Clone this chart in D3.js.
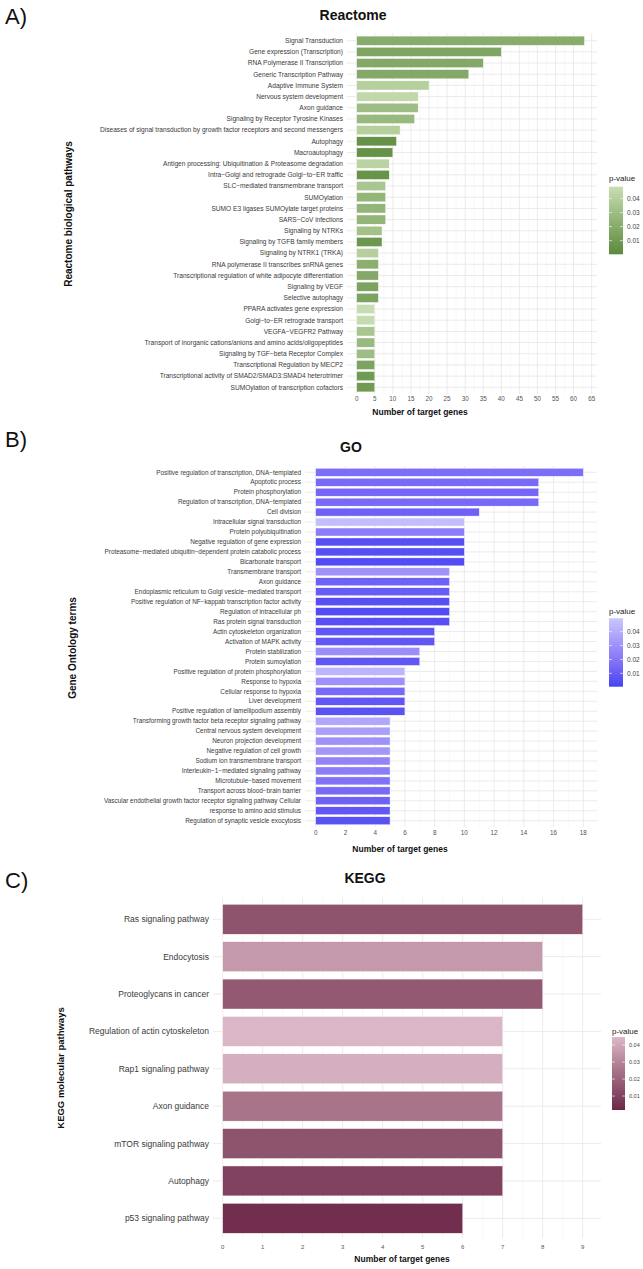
<!DOCTYPE html>
<html>
<head>
<meta charset="utf-8">
<script src="https://cdn.jsdelivr.net/npm/d3@7"></script>
<style>
  body { margin: 0; background: #fff; }
  text { font-family: "Liberation Sans", Arial, sans-serif; }
</style>
</head>
<body>
<svg width="643" height="1269"></svg>
<script>
// ---- Reactome ----
const reactomeTerms = [
  "Signal Transduction", "Gene expression (Transcription)", "RNA Polymerase II Transcription",
  "Generic Transcription Pathway", "Adaptive Immune System", "Nervous system development",
  "Axon guidance", "Signaling by Receptor Tyrosine Kinases",
  "Diseases of signal transduction by growth factor receptors and second messengers",
  "Autophagy", "Macroautophagy", "Antigen processing: Ubiquitination & Proteasome degradation",
  "Intra−Golgi and retrograde Golgi−to−ER traffic", "SLC−mediated transmembrane transport",
  "SUMOylation", "SUMO E3 ligases SUMOylate target proteins", "SARS−CoV infections",
  "Signaling by NTRKs", "Signaling by TGFB family members", "Signaling by NTRK1 (TRKA)",
  "RNA polymerase II transcribes snRNA genes", "Transcriptional regulation of white adipocyte differentiation",
  "Signaling by VEGF", "Selective autophagy", "PPARA activates gene expression",
  "Golgi−to−ER retrograde transport", "VEGFA−VEGFR2 Pathway",
  "Transport of inorganic cations/anions and amino acids/oligopeptides",
  "Signaling by TGF−beta Receptor Complex", "Transcriptional Regulation by MECP2",
  "Transcriptional activity of SMAD2/SMAD3:SMAD4 heterotrimer", "SUMOylation of transcription cofactors"
];
const reactomeCounts = [63, 40, 35, 31, 20, 17, 17, 16, 12, 11, 10, 9, 9, 8, 8, 8, 8, 7, 7, 6, 6, 6, 6, 6, 5, 5, 5, 5, 5, 5, 5, 5];
const reactomePvals = [0.02, 0.016, 0.018, 0.018, 0.04, 0.045, 0.03, 0.028, 0.04, 0.005, 0.005, 0.042, 0.006, 0.035, 0.025, 0.025,
  0.025, 0.032, 0.008, 0.04, 0.022, 0.018, 0.015, 0.015, 0.048, 0.047, 0.035, 0.028, 0.03, 0.015, 0.01, 0.01];

// ---- GO ----
const goTerms = [
  "Positive regulation of transcription, DNA−templated", "Apoptotic process", "Protein phosphorylation",
  "Regulation of transcription, DNA−templated", "Cell division", "Intracellular signal transduction",
  "Protein polyubiquitination", "Negative regulation of gene expression",
  "Proteasome−mediated ubiquitin−dependent protein catabolic process", "Bicarbonate transport",
  "Transmembrane transport", "Axon guidance", "Endoplasmic reticulum to Golgi vesicle−mediated transport",
  "Positive regulation of NF−kappab transcription factor activity", "Regulation of intracellular ph",
  "Ras protein signal transduction", "Actin cytoskeleton organization", "Activation of MAPK activity",
  "Protein stabilization", "Protein sumoylation", "Positive regulation of protein phosphorylation",
  "Response to hypoxia", "Cellular response to hypoxia", "Liver development",
  "Positive regulation of lamellipodium assembly", "Transforming growth factor beta receptor signaling pathway",
  "Central nervous system development", "Neuron projection development", "Negative regulation of cell growth",
  "Sodium ion transmembrane transport", "Interleukin−1−mediated signaling pathway", "Microtubule−based movement",
  "Transport across blood−brain barrier", "Vascular endothelial growth factor receptor signaling pathway Cellular",
  "response to amino acid stimulus", "Regulation of synaptic vesicle exocytosis"
];
const goCounts = [18, 15, 15, 15, 11, 10, 10, 10, 10, 10, 9, 9, 9, 9, 9, 9, 8, 8, 7, 7, 6, 6, 6, 6, 6, 5, 5, 5, 5, 5, 5, 5, 5, 5, 5, 5];
const goPvals = [0.017, 0.015, 0.014, 0.015, 0.012, 0.046, 0.022, 0.005, 0.005, 0.004, 0.03, 0.012, 0.01, 0.005, 0.004, 0.005,
  0.008, 0.008, 0.028, 0.008, 0.043, 0.03, 0.015, 0.008, 0.006, 0.038, 0.035, 0.03, 0.032, 0.025, 0.022, 0.018,
  0.015, 0.012, 0.008, 0.006];

// ---- KEGG ----
const keggTerms = [
  "Ras signaling pathway", "Endocytosis", "Proteoglycans in cancer", "Regulation of actin cytoskeleton",
  "Rap1 signaling pathway", "Axon guidance", "mTOR signaling pathway", "Autophagy", "p53 signaling pathway"
];
const keggCounts = [9, 8, 8, 7, 7, 7, 7, 7, 6];
const keggPvals = [0.015, 0.036, 0.017, 0.044, 0.042, 0.025, 0.015, 0.01, 0.004];

const legendTicks = [0.01, 0.02, 0.03, 0.04];

const svg = d3.select("svg");
const defs = svg.append("defs");

function drawPanel(o) {
  const g = svg.append("g");
  const x = d3.scaleLinear().domain([0, o.xMax]).range([o.x0, o.x1]);
  const y = d3.scaleBand().domain(o.terms).range([o.bandTop, o.bandBottom])
    .paddingInner(o.padInner).paddingOuter(o.padInner / 2);
  const color = d3.scaleLinear().domain(o.pRange).range([o.low, o.high])
    .interpolate(d3.interpolateLab).clamp(true);

  // grid
  const minor = d3.range(o.minorStep, o.xMax + o.minorStep, o.minorStep * 2)
    .filter(v => x(v) <= o.panelR);
  g.selectAll(".minor").data(minor).join("line")
    .attr("x1", d => x(d)).attr("x2", d => x(d))
    .attr("y1", o.gridTop).attr("y2", o.gridBottom)
    .attr("stroke", "#f0f0f0").attr("stroke-width", 0.5);
  const ticks = d3.range(0, o.xMax + 0.001, o.tickStep);
  g.selectAll(".major").data(ticks).join("line")
    .attr("x1", d => x(d)).attr("x2", d => x(d))
    .attr("y1", o.gridTop).attr("y2", o.gridBottom)
    .attr("stroke", "#e6e6e6").attr("stroke-width", 0.8);
  g.selectAll(".hgrid").data(o.terms).join("line")
    .attr("x1", o.panelL).attr("x2", o.panelR)
    .attr("y1", d => y(d) + y.bandwidth() / 2).attr("y2", d => y(d) + y.bandwidth() / 2)
    .attr("stroke", "#e6e6e6").attr("stroke-width", 0.8);

  // bars
  g.selectAll(".bar").data(o.terms).join("rect")
    .attr("x", x(0))
    .attr("y", d => y(d))
    .attr("width", (d, i) => x(o.counts[i]) - x(0))
    .attr("height", y.bandwidth())
    .attr("fill", (d, i) => color(o.pvals[i]))
    .attr("stroke", "#ffffff").attr("stroke-width", 0.4);

  // y labels
  g.selectAll(".ylab").data(o.terms).join("text")
    .attr("x", o.labelX).attr("y", d => y(d) + y.bandwidth() / 2)
    .attr("dy", "0.35em").attr("text-anchor", "end")
    .attr("font-size", o.labelSize).attr("fill", "#3a3a3a")
    .text(d => d);

  // x tick labels
  g.selectAll(".xt").data(ticks).join("text")
    .attr("x", d => x(d)).attr("y", o.tickY).attr("dy", "0.35em")
    .attr("text-anchor", "middle").attr("font-size", o.tickSize).attr("fill", "#555")
    .text(d => d);

  // titles
  g.append("text").attr("x", 5).attr("y", o.letterY).attr("font-size", 22).attr("fill", "#111").text(o.letter);
  g.append("text").attr("x", o.titleX).attr("y", o.titleY).attr("text-anchor", "middle")
    .attr("font-size", 14).attr("font-weight", "bold").attr("fill", "#111").text(o.title);
  g.append("text").attr("x", o.xTitleX).attr("y", o.xTitleY).attr("text-anchor", "middle")
    .attr("font-size", 8.5).attr("font-weight", "bold").attr("fill", "#111").text("Number of target genes");
  g.append("text").attr("transform", `translate(${o.yTitleX},${o.yTitleY}) rotate(-90)`)
    .attr("text-anchor", "middle").attr("font-size", o.yTitleSize).attr("font-weight", "bold")
    .attr("fill", "#111").text(o.yTitle);

  // legend
  const L = o.legend;
  const ly = d3.scaleLinear().domain(o.pRange).range([L.bottom, L.top]);
  const gid = "grad" + o.title;
  const grad = defs.append("linearGradient").attr("id", gid)
    .attr("x1", 0).attr("y1", 1).attr("x2", 0).attr("y2", 0);
  d3.range(0, 1.001, 0.1).forEach(t => {
    grad.append("stop").attr("offset", t)
      .attr("stop-color", color(o.pRange[0] + t * (o.pRange[1] - o.pRange[0])));
  });
  g.append("text").attr("x", L.x).attr("y", L.titleY).attr("dy", "0.35em")
    .attr("font-size", 8).attr("fill", "#222").text("p-value");
  g.append("rect").attr("x", L.x).attr("y", L.top).attr("width", L.w).attr("height", L.bottom - L.top)
    .attr("fill", `url(#${gid})`);
  g.selectAll(".lt").data(legendTicks).join("line")
    .attr("x1", L.x).attr("x2", L.x + 3).attr("y1", d => ly(d)).attr("y2", d => ly(d))
    .attr("stroke", "#fff").attr("stroke-width", 0.6);
  g.selectAll(".ltr").data(legendTicks).join("line")
    .attr("x1", L.x + L.w - 3).attr("x2", L.x + L.w).attr("y1", d => ly(d)).attr("y2", d => ly(d))
    .attr("stroke", "#fff").attr("stroke-width", 0.6);
  g.selectAll(".ll").data(legendTicks).join("text")
    .attr("x", L.x + L.w + 4).attr("y", d => ly(d)).attr("dy", "0.35em")
    .attr("font-size", L.fs).attr("fill", "#444").text(d => d.toFixed(2));
}

drawPanel({
  terms: reactomeTerms, counts: reactomeCounts, pvals: reactomePvals,
  xMax: 65, tickStep: 5, minorStep: 2.5, x0: 356.7, x1: 591.7, panelL: 347, panelR: 597,
  bandTop: 35.1, bandBottom: 392.9, gridTop: 33, gridBottom: 394, padInner: 0.18,
  low: "#5b8a3c", high: "#c8deb2", pRange: [0.0003, 0.0483],
  labelX: 343, labelSize: 6.6, tickY: 398.5, tickSize: 6.3,
  letter: "A)", letterY: 24, title: "Reactome", titleX: 353, titleY: 20,
  xTitleX: 420, xTitleY: 415, yTitle: "Reactome biological pathways", yTitleX: 72, yTitleY: 214, yTitleSize: 10,
  legend: { x: 609, w: 14, titleY: 178.5, top: 186.7, bottom: 254.3, fs: 6.5 }
});

drawPanel({
  terms: goTerms, counts: goCounts, pvals: goPvals,
  xMax: 18, tickStep: 2, minorStep: 1, x0: 315.7, x1: 583.3, panelL: 305, panelR: 597,
  bandTop: 467.3, bandBottom: 825.7, gridTop: 466, gridBottom: 827, padInner: 0.2,
  low: "#4343f3", high: "#c9c7fb", pRange: [0.0004, 0.0496],
  labelX: 301, labelSize: 6.4, tickY: 833, tickSize: 6.3,
  letter: "B)", letterY: 447, title: "GO", titleX: 351, titleY: 452,
  xTitleX: 400, xTitleY: 852, yTitle: "Gene Ontology terms", yTitleX: 76, yTitleY: 648, yTitleSize: 10,
  legend: { x: 609, w: 14, titleY: 611.5, top: 618.3, bottom: 686.7, fs: 6.5 }
});

drawPanel({
  terms: keggTerms, counts: keggCounts, pvals: keggPvals,
  xMax: 9, tickStep: 1, minorStep: 0.5, x0: 222.7, x1: 582.7, panelL: 213, panelR: 601,
  bandTop: 900.6, bandBottom: 1237, gridTop: 897, gridBottom: 1238, padInner: 0.2,
  low: "#6b2748", high: "#dcb8c8", pRange: [0.0018, 0.0447],
  labelX: 209, labelSize: 8.5, tickY: 1247, tickSize: 6,
  letter: "C)", letterY: 888, title: "KEGG", titleX: 365, titleY: 883,
  xTitleX: 402, xTitleY: 1262, yTitle: "KEGG molecular pathways", yTitleX: 64, yTitleY: 1068, yTitleSize: 9.5,
  legend: { x: 612, w: 13, titleY: 1031, top: 1037, bottom: 1110, fs: 5.5 }
});
</script>
</body>
</html>
